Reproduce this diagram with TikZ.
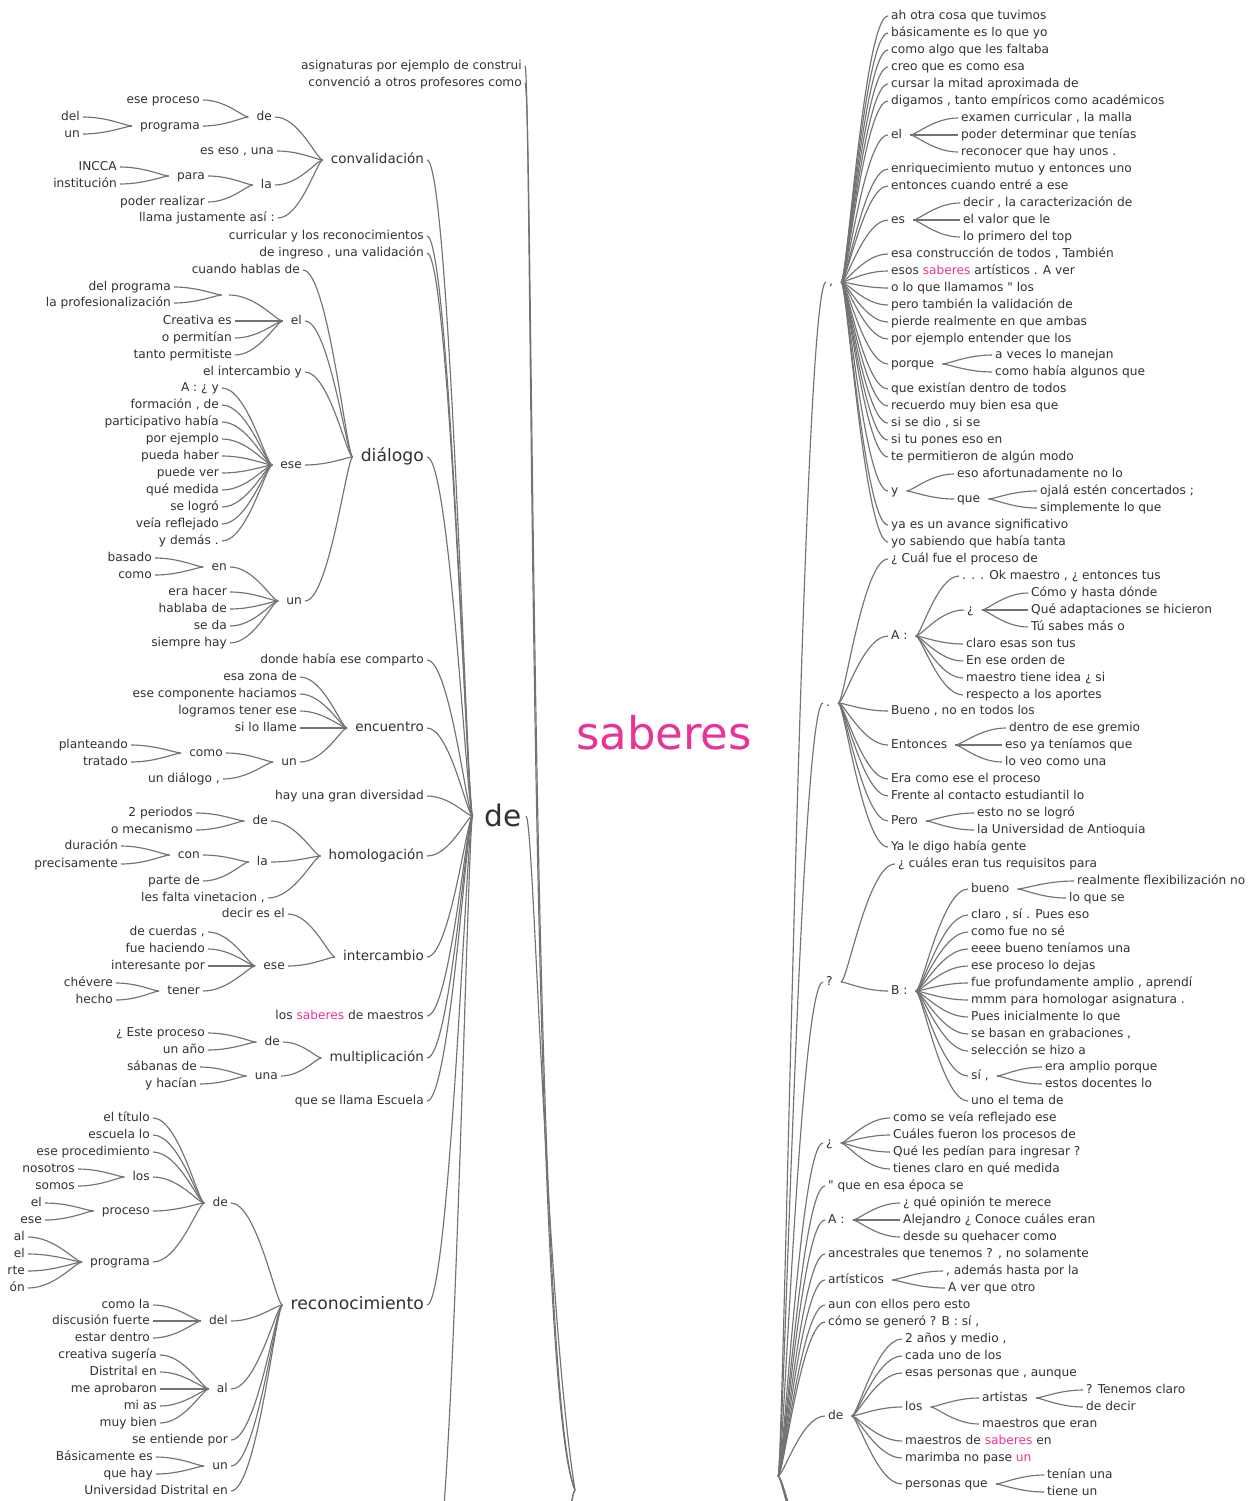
\documentclass[tikz,border=0pt]{standalone}
\usepackage{fontspec}
\setmainfont{DejaVu Sans}
% same face without the TeX quote mapping, for straight double quotes
\newfontfamily\plainq{DejaVu Sans}
\usetikzlibrary{calc}
\definecolor{txt}{RGB}{50,50,50}
\definecolor{lnc}{RGB}{115,115,115}
\definecolor{pk}{RGB}{232,52,150}
\newcommand\fleaf{\fontsize{12.2}{14}\selectfont}
\newcommand\fmid{\fontsize{13.5}{16}\selectfont}
\newcommand\fbig{\fontsize{17.2}{20}\selectfont}
\newcommand\fde{\fontsize{29.6}{34}\selectfont}
\newcommand\fsab{\fontsize{45}{52}\selectfont}
\newcommand\dq{{\plainq"}}
% left link: child (text ends on the right) to a hub point
\newcommand\lkp[2]{\draw[lnk] let \p1=($(#1.east)+(3,0)$), \p2=(#2), \n1={\x2-\x1} in (\p1) .. controls ($(\p1)+(0.5*\n1,0)$) and ($(\p2)+(-0.12*\n1,0)$) .. (\p2);}
\newcommand\lk[2]{\lkp{#1}{$(#2.west)+(-8,0)$}}
% right link: hub point to child (text starts on the left)
\newcommand\rkp[2]{\draw[lnk] let \p1=(#1), \p2=($(#2.west)+(-3,0)$), \n1={\x2-\x1} in (\p1) .. controls ($(\p1)+(0.12*\n1,0)$) and ($(\p2)+(-0.5*\n1,0)$) .. (\p2);}
\newcommand\rk[2]{\rkp{$(#1.east)+(8,0)$}{#2}}
\begin{document}
\begin{tikzpicture}[x=1pt,y=-1pt,
  wbase/.style={inner sep=0pt, text=txt},
  wl/.style={wbase, anchor=east, font=\fleaf, text height=9pt, text depth=2pt},
  wr/.style={wbase, anchor=west, font=\fleaf, text height=9pt, text depth=2pt},
  wm/.style={wbase, anchor=east, font=\fmid, text height=10pt, text depth=2.4pt},
  wbig/.style={wbase, anchor=east, font=\fbig, text height=12.5pt, text depth=3pt},
  wde/.style={wbase, anchor=east, font=\fde, text height=21pt, text depth=0pt},
  wsab/.style={inner sep=0pt, text=pk, font=\fsab},
  jn/.style={inner sep=0pt, minimum size=0pt},
  lnk/.style={draw=lnc, line width=1.15pt},
]
\useasboundingbox (0,0) rectangle (1257,1501);
\clip (0,0) rectangle (1257,1501);
\fill[white] (0,0) rectangle (1257,1501);

% ---------------- root ----------------
\node[wsab] (sab) at (664,733) {saberes};
\coordinate (Lh) at (575,1490);
\coordinate (Rh) at (778,1476);

% ---------------- left side ----------------
\node[wl] (a1) at (522,66) {asignaturas por ejemplo de construi};
\node[wl] (a2) at (522,83) {convenció a otros profesores como};
\node[wde] (de) at (522,816) {de};
\coordinate (deh) at ($(de.west)+(-12,0)$);

% convalidación
\node[wm] (conv) at (424,160) {convalidación};
\node[wl] (cvde) at (272,117) {de};
\node[wl] (cvep) at (200,100) {ese proceso};
\node[wl] (cvpr) at (200,126) {programa};
\node[wl] (cvdel) at (80,117) {del};
\node[wl] (cvun) at (80,134) {un};
\node[wl] (cvee) at (274,151) {es eso , una};
\node[wl] (cvla) at (272,185) {la};
\node[wl] (cvpara) at (205,176) {para};
\node[wl] (cvin) at (117,167) {INCCA};
\node[wl] (cvins) at (117,184) {institución};
\node[wl] (cvpo) at (205,202) {poder realizar};
\node[wl] (cvll) at (275,218) {llama justamente así :};
\foreach \c in {cvde,cvee,cvla,cvll} {\lk{\c}{conv}}
\foreach \c in {cvep,cvpr} {\lk{\c}{cvde}}
\foreach \c in {cvdel,cvun} {\lk{\c}{cvpr}}
\foreach \c in {cvpara,cvpo} {\lk{\c}{cvla}}
\foreach \c in {cvin,cvins} {\lk{\c}{cvpara}}

\node[wl] (cur) at (424,236) {curricular y los reconocimientos};
\node[wl] (ding) at (424,253) {de ingreso , una validación};

% diálogo
\node[wbig] (dia) at (424,457) {diálogo};
\node[wl] (dgch) at (300,270) {cuando hablas de};
\node[wl] (dgel) at (302,321) {el};
\node[wl] (dgdp) at (171,287) {del programa};
\node[wl] (dglp) at (171,303) {la profesionalización};
\node[jn] (dgj) at (226,295) {};
\node[wl] (dgce) at (232,321) {Creativa es};
\node[wl] (dgop) at (232,338) {o permitían};
\node[wl] (dgtp) at (232,355) {tanto permitiste};
\node[wl] (dgei) at (302,372) {el intercambio y};
\node[wl] (dgese) at (302,465) {ese};
\node[wl] (dgun) at (302,601) {un};
\node[wl] (dgen) at (227,567) {en};
\node[wl] (dgba) at (152,558) {basado};
\node[wl] (dgco) at (152,575) {como};
\foreach \c in {dgch,dgel,dgei,dgese,dgun} {\lk{\c}{dia}}
\foreach \c in {dgdp,dglp} {\lkp{\c}{$(dgj.west)+(-4,0)$}}
\lkp{dgj}{$(dgel.west)+(-8,0)$}
\foreach \c in {dgce,dgop,dgtp} {\lk{\c}{dgel}}
\foreach \t [count=\i] in {{A : ¿ y},{formación , de},{participativo había},{por ejemplo},{pueda haber},{puede ver},{qué medida},{se logró},{veía reflejado},{y demás .}}
  {\node[wl] (dgs\i) at (219,{371+17*\i}) {\t}; \lk{dgs\i}{dgese}}
\foreach \c in {dgba,dgco} {\lk{\c}{dgen}}
\lk{dgen}{dgun}
\foreach \t [count=\i] in {{era hacer},{hablaba de},{se da},{siempre hay}}
  {\node[wl] (dgu\i) at (227,{575+17*\i}) {\t}; \lk{dgu\i}{dgun}}

\node[wl] (dhc) at (424,660) {donde había ese comparto};

% encuentro
\node[wm] (enc) at (424,728) {encuentro};
\foreach \t [count=\i] in {{esa zona de},{ese componente haciamos},{logramos tener ese},{si lo llame}}
  {\node[wl] (enl\i) at (297,{660+17*\i}) {\t}; \lk{enl\i}{enc}}
\node[wl] (enun) at (297,762) {un};
\node[wl] (enco) at (223,753) {como};
\node[wl] (enpl) at (128,745) {planteando};
\node[wl] (entr) at (128,762) {tratado};
\node[wl] (enud) at (220,779) {un diálogo ,};
\lk{enun}{enc}
\foreach \c in {enco,enud} {\lk{\c}{enun}}
\foreach \c in {enpl,entr} {\lk{\c}{enco}}

\node[wl] (hay) at (424,796) {hay una gran diversidad};

% homologación
\node[wm] (hom) at (424,856) {homologación};
\node[wl] (hmde) at (268,821) {de};
\node[wl] (hm2p) at (193,813) {2 periodos};
\node[wl] (hmom) at (193,830) {o mecanismo};
\node[wl] (hmla) at (268,862) {la};
\node[wl] (hmcon) at (200,855) {con};
\node[wl] (hmdur) at (118,846) {duración};
\node[wl] (hmpre) at (118,864) {precisamente};
\node[wl] (hmpd) at (200,881) {parte de};
\node[wl] (hmlf) at (265,898) {les falta vinetacion ,};
\foreach \c in {hmde,hmla,hmlf} {\lk{\c}{hom}}
\foreach \c in {hm2p,hmom} {\lk{\c}{hmde}}
\foreach \c in {hmcon,hmpd} {\lk{\c}{hmla}}
\foreach \c in {hmdur,hmpre} {\lk{\c}{hmcon}}

% intercambio
\node[wm] (int) at (424,957) {intercambio};
\node[wl] (icde) at (285,914) {decir es el};
\node[wl] (icese) at (285,966) {ese};
\node[wl] (icdc) at (205,932) {de cuerdas ,};
\node[wl] (icfh) at (205,949) {fue haciendo};
\node[wl] (icip) at (205,966) {interesante por};
\node[wl] (icten) at (200,991) {tener};
\node[wl] (icch) at (113,983) {chévere};
\node[wl] (iche) at (113,1000) {hecho};
\foreach \c in {icde,icese} {\lk{\c}{int}}
\foreach \c in {icdc,icfh,icip,icten} {\lk{\c}{icese}}
\foreach \c in {icch,iche} {\lk{\c}{icten}}

\node[wl] (lsm) at (424,1016) {los \textcolor{pk}{saberes} de maestros};

% multiplicación
\node[wm] (mul) at (424,1058) {multiplicación};
\node[wl] (mude) at (280,1042) {de};
\node[wl] (muep) at (205,1033) {¿ Este proceso};
\node[wl] (muua) at (205,1050) {un año};
\node[wl] (muuna) at (278,1076) {una};
\node[wl] (musd) at (197,1067) {sábanas de};
\node[wl] (muyh) at (197,1084) {y hacían};
\foreach \c in {mude,muuna} {\lk{\c}{mul}}
\foreach \c in {muep,muua} {\lk{\c}{mude}}
\foreach \c in {musd,muyh} {\lk{\c}{muuna}}

\node[wl] (qsl) at (424,1101) {que se llama Escuela};

% reconocimiento
\node[wbig] (rec) at (424,1305) {reconocimiento};
\node[wl] (rcde) at (228,1203) {de};
\node[wl] (rct) at (150,1118) {el título};
\node[wl] (rce) at (150,1135) {escuela lo};
\node[wl] (rcep) at (150,1152) {ese procedimiento};
\node[wl] (rclos) at (150,1177) {los};
\node[wl] (rcnos) at (75,1169) {nosotros};
\node[wl] (rcsom) at (75,1186) {somos};
\node[wl] (rcpro) at (150,1211) {proceso};
\node[wl] (rcel) at (42,1203) {el};
\node[wl] (rcese) at (42,1220) {ese};
\node[wl] (rcprg) at (150,1262) {programa};
\node[wl] (rcp1) at (25,1237) {al};
\node[wl] (rcp2) at (25,1254) {el};
\node[wl] (rcp3) at (25,1271) {rte};
\node[wl] (rcp4) at (25,1288) {ón};
\node[wl] (rcdel) at (228,1321) {del};
\node[wl] (rccl) at (150,1305) {como la};
\node[wl] (rcdf) at (150,1321) {discusión fuerte};
\node[wl] (rced) at (150,1338) {estar dentro};
\node[wl] (rcal) at (228,1389) {al};
\node[wl] (rcse) at (228,1440) {se entiende por};
\node[wl] (rcun) at (228,1466) {un};
\node[wl] (rcba) at (153,1457) {Básicamente es};
\node[wl] (rcqh) at (153,1474) {que hay};
\node[wl] (rcud) at (228,1491) {Universidad Distrital en};
\foreach \c in {rcde,rcdel,rcal,rcse,rcun,rcud} {\lk{\c}{rec}}
\foreach \c in {rct,rce,rcep,rclos,rcpro,rcprg} {\lk{\c}{rcde}}
\foreach \c in {rcnos,rcsom} {\lk{\c}{rclos}}
\foreach \c in {rcel,rcese} {\lk{\c}{rcpro}}
\foreach \c in {rcp1,rcp2,rcp3,rcp4} {\lk{\c}{rcprg}}
\foreach \c in {rccl,rcdf,rced} {\lk{\c}{rcdel}}
\foreach \t [count=\i] in {{creativa sugería},{Distrital en},{me aprobaron},{mi as},{muy bien}}
  {\node[wl] (rca\i) at (157,{1338+17*\i}) {\t}; \lk{rca\i}{rcal}}
\foreach \c in {rcba,rcqh} {\lk{\c}{rcun}}

% children of the left "de"
\node[jn] (dest) at (430,1580) {};
\foreach \c in {conv,cur,ding,dia,dhc,enc,hay,hom,int,lsm,mul,qsl,rec,dest} {\lkp{\c}{deh}}

% left links into the root
\draw[lnk] ($(a1.east)+(3,0)$) .. controls (532,66) and (529,1390) .. (Lh);
\draw[lnk] ($(a2.east)+(3,0)$) .. controls (533,83) and (531,1380) .. (Lh);
\draw[lnk] ($(de.east)+(4,0)$) .. controls (534,816) and (545,1300) .. (Lh);
\node[jn] (ls1) at (548,1560) {};
\node[jn] (ls2) at (530,1640) {};
\foreach \c in {ls1,ls2} {\lkp{\c}{Lh}}

% ---------------- right side ----------------
% ","
\node[wr] (cm) at (829,282) {,};
\foreach \t [count=\i] in {{ah otra cosa que tuvimos},{básicamente es lo que yo},{como algo que les faltaba},{creo que es como esa},{cursar la mitad aproximada de},{digamos , tanto empíricos como académicos}}
  {\node[wr] (cma\i) at (891,{-1+17*\i}) {\t}; \rk{cm}{cma\i}}
\node[wr] (cmel) at (891,135) {el};
\node[wr] (cmel1) at (961,118) {examen curricular , la malla};
\node[wr] (cmel2) at (961,135) {poder determinar que tenías};
\node[wr] (cmel3) at (961,152) {reconocer que hay unos .};
\node[wr] (cmb1) at (891,169) {enriquecimiento mutuo y entonces uno};
\node[wr] (cmb2) at (891,186) {entonces cuando entré a ese};
\node[wr] (cmes) at (891,220) {es};
\node[wr] (cmes1) at (963,203) {decir , la caracterización de};
\node[wr] (cmes2) at (963,220) {el valor que le};
\node[wr] (cmes3) at (963,237) {lo primero del top};
\foreach \t [count=\i] in {{esa construcción de todos , También},{esos \textcolor{pk}{saberes} artísticos . A ver},{o lo que llamamos \dq{} los},{pero también la validación de},{pierde realmente en que ambas},{por ejemplo entender que los}}
  {\node[wr] (cmc\i) at (891,{237+17*\i}) {\t}; \rk{cm}{cmc\i}}
\node[wr] (cmpq) at (891,364) {porque};
\node[wr] (cmpq1) at (995,355) {a veces lo manejan};
\node[wr] (cmpq2) at (995,372) {como había algunos que};
\foreach \t [count=\i] in {{que existían dentro de todos},{recuerdo muy bien esa que},{si se dio , si se},{si tu pones eso en},{te permitieron de algún modo}}
  {\node[wr] (cmd\i) at (891,{372+17*\i}) {\t}; \rk{cm}{cmd\i}}
\node[wr] (cmy) at (891,491) {y};
\node[wr] (cmy1) at (957,474) {eso afortunadamente no lo};
\node[wr] (cmyq) at (957,499) {que};
\node[wr] (cmyq1) at (1040,491) {ojalá estén concertados ;};
\node[wr] (cmyq2) at (1040,508) {simplemente lo que};
\node[wr] (cme1) at (891,525) {ya es un avance significativo};
\node[wr] (cme2) at (891,542) {yo sabiendo que había tanta};
\foreach \c in {cmel,cmb1,cmb2,cmes,cmpq,cmy,cme1,cme2} {\rk{cm}{\c}}
\foreach \c in {cmel1,cmel2,cmel3} {\rk{cmel}{\c}}
\foreach \c in {cmes1,cmes2,cmes3} {\rk{cmes}{\c}}
\foreach \c in {cmpq1,cmpq2} {\rk{cmpq}{\c}}
\foreach \c in {cmy1,cmyq} {\rk{cmy}{\c}}
\foreach \c in {cmyq1,cmyq2} {\rk{cmyq}{\c}}

% "."
\node[wr] (dt) at (826,703) {.};
\node[wr] (dt1) at (891,559) {¿ Cuál fue el proceso de};
\node[wr] (dtA) at (891,636) {A :};
\node[wr] (dtA1) at (962,576) {. . . Ok maestro , ¿ entonces tus};
\node[wr] (dtAq) at (967,610) {¿};
\node[wr] (dtAq1) at (1031,593) {Cómo y hasta dónde};
\node[wr] (dtAq2) at (1031,610) {Qué adaptaciones se hicieron};
\node[wr] (dtAq3) at (1031,627) {Tú sabes más o};
\foreach \t [count=\i] in {{claro esas son tus},{En ese orden de},{maestro tiene idea ¿ si},{respecto a los aportes}}
  {\node[wr] (dtAb\i) at (966,{627+17*\i}) {\t}; \rk{dtA}{dtAb\i}}
\node[wr] (dt2) at (891,711) {Bueno , no en todos los};
\node[wr] (dtE) at (891,745) {Entonces};
\node[wr] (dtE1) at (1009,728) {dentro de ese gremio};
\node[wr] (dtE2) at (1005,745) {eso ya teníamos que};
\node[wr] (dtE3) at (1005,762) {lo veo como una};
\node[wr] (dt3) at (891,779) {Era como ese el proceso};
\node[wr] (dt4) at (891,796) {Frente al contacto estudiantil lo};
\node[wr] (dtP) at (891,821) {Pero};
\node[wr] (dtP1) at (977,813) {esto no se logró};
\node[wr] (dtP2) at (977,830) {la Universidad de Antioquia};
\node[wr] (dt5) at (891,847) {Ya le digo había gente};
\foreach \c in {dt1,dtA,dt2,dtE,dt3,dt4,dtP,dt5} {\rk{dt}{\c}}
\foreach \c in {dtA1,dtAq} {\rk{dtA}{\c}}
\foreach \c in {dtAq1,dtAq2,dtAq3} {\rk{dtAq}{\c}}
\foreach \c in {dtE1,dtE2,dtE3} {\rk{dtE}{\c}}
\foreach \c in {dtP1,dtP2} {\rk{dtP}{\c}}

% "?"
\node[wr] (qm) at (826,982) {?};
\node[wr] (qm1) at (898,864) {¿ cuáles eran tus requisitos para};
\node[wr] (qB) at (891,991) {B :};
\node[wr] (qBb) at (971,889) {bueno};
\node[wr] (qBb1) at (1077,881) {realmente flexibilización no};
\node[wr] (qBb2) at (1069,898) {lo que se};
\foreach \t [count=\i] in {{claro , sí . Pues eso},{como fue no sé},{eeee bueno teníamos una},{ese proceso lo dejas},{fue profundamente amplio , aprendí},{mmm para homologar asignatura .},{Pues inicialmente lo que},{se basan en grabaciones ,},{selección se hizo a}}
  {\node[wr] (qBr\i) at (971,{898+17*\i}) {\t}; \rk{qB}{qBr\i}}
\node[wr] (qBs) at (971,1076) {sí ,};
\node[wr] (qBs1) at (1045,1067) {era amplio porque};
\node[wr] (qBs2) at (1045,1084) {estos docentes lo};
\node[wr] (qBu) at (971,1101) {uno el tema de};
\foreach \c in {qm1,qB} {\rk{qm}{\c}}
\foreach \c in {qBb,qBs,qBu} {\rk{qB}{\c}}
\foreach \c in {qBb1,qBb2} {\rk{qBb}{\c}}
\foreach \c in {qBs1,qBs2} {\rk{qBs}{\c}}

% "¿"
\node[wr] (iq) at (826,1143) {¿};
\foreach \t [count=\i] in {{como se veía reflejado ese},{Cuáles fueron los procesos de},{Qué les pedían para ingresar ?},{tienes claro en qué medida}}
  {\node[wr] (iq\i) at (893,{1101+17*\i}) {\t}; \rk{iq}{iq\i}}
\node[wr] (rq) at (828,1186) {\dq{} que en esa época se};
\node[wr] (rA) at (828,1220) {A :};
\foreach \t [count=\i] in {{¿ qué opinión te merece},{Alejandro ¿ Conoce cuáles eran},{desde su quehacer como}}
  {\node[wr] (rA\i) at (903,{1186+17*\i}) {\t}; \rk{rA}{rA\i}}
\node[wr] (ran) at (828,1254) {ancestrales que tenemos ? , no solamente};
\node[wr] (rart) at (828,1280) {artísticos};
\node[wr] (rart1) at (946,1271) {, además hasta por la};
\node[wr] (rart2) at (948,1288) {A ver que otro};
\foreach \c in {rart1,rart2} {\rk{rart}{\c}}
\node[wr] (raun) at (828,1305) {aun con ellos pero esto};
\node[wr] (rcg) at (828,1322) {cómo se generó ? B : sí ,};
\node[wr] (rde) at (828,1416) {de};
\foreach \t [count=\i] in {{2 años y medio ,},{cada uno de los},{esas personas que , aunque}}
  {\node[wr] (rde\i) at (905,{1322+17*\i}) {\t}; \rk{rde}{rde\i}}
\node[wr] (rdl) at (905,1407) {los};
\node[wr] (rdla) at (982,1398) {artistas};
\node[wr] (rdla1) at (1086,1390) {? Tenemos claro};
\node[wr] (rdla2) at (1086,1407) {de decir};
\node[wr] (rdlm) at (982,1424) {maestros que eran};
\node[wr] (rdm1) at (905,1441) {maestros de \textcolor{pk}{saberes} en};
\node[wr] (rdm2) at (905,1458) {marimba no pase \textcolor{pk}{un}};
\node[wr] (rdp) at (905,1484) {personas que};
\node[wr] (rdp1) at (1047,1475) {tenían una};
\node[wr] (rdp2) at (1047,1492) {tiene un};
\foreach \c in {rdl,rdm1,rdm2,rdp} {\rk{rde}{\c}}
\foreach \c in {rdla,rdlm} {\rk{rdl}{\c}}
\foreach \c in {rdla1,rdla2} {\rk{rdla}{\c}}
\foreach \c in {rdp1,rdp2} {\rk{rdp}{\c}}

% right links from the root
\node[jn] (rs1) at (810,1540) {};
\node[jn] (rs2) at (840,1600) {};
\node[jn] (rs3) at (860,1700) {};
\foreach \c in {cm,dt,qm,iq,rq,rA,ran,rart,raun,rcg,rde,rs1,rs2,rs3} {\rkp{Rh}{\c}}
\end{tikzpicture}
\end{document}
